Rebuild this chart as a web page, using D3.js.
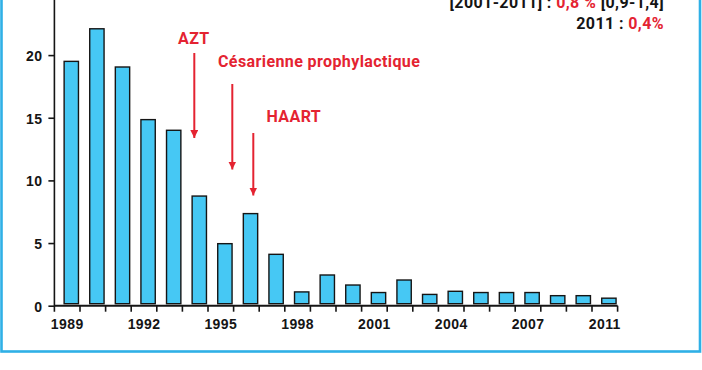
<!DOCTYPE html>
<html>
<head>
<meta charset="utf-8">
<script src="https://cdn.jsdelivr.net/npm/d3@7"></script>
<style>
  body { margin: 0; background: #fff; }
  svg { display: block; font-family: Roboto, "Liberation Sans", sans-serif; }
</style>
</head>
<body>
<div id="chart"></div>
<script>
// years shown as bars (source labels its last bar 2011)
var years = ["1989","1990","1991","1992","1993","1994","1995","1996","1997","1998","1999",
             "2000","2001","2002","2003","2004","2005","2006","2007","2008","2009","2011"];
var rates = [19.5, 22.1, 19.05, 14.85, 14.0, 8.75, 4.95, 7.35, 4.1, 1.1, 2.45,
             1.65, 1.05, 2.05, 0.9, 1.15, 1.05, 1.05, 1.05, 0.8, 0.8, 0.6];
var yearTicks = ["1989","1992","1995","1998","2001","2004","2007","2011"];
var rateTicks = [0, 5, 10, 15, 20];
var events = ["AZT", "Césarienne prophylactique", "HAART"];

var W = 702, H = 370;
var red = "#e42331", blue = "#46c8f4", frame = "#2fb0e6", ink = "#151515";

var svg = d3.select("#chart").append("svg")
  .attr("width", W)
  .attr("height", H);

// frame (top edge falls outside the picture)
svg.append("rect")
  .attr("x", 1.5).attr("y", -10)
  .attr("width", 698.5).attr("height", 361.5)
  .attr("fill", "#fff")
  .attr("stroke", frame)
  .attr("stroke-width", 2.6);

var x = d3.scaleBand().domain(years).range([54.4, 617.6]).padding(0);
var y = d3.scaleLinear().domain([0, 20]).range([305.7, 55.1]);
var step = x.step();

// bars
svg.selectAll("rect.bar")
  .data(rates)
  .enter()
  .append("rect")
  .attr("class", "bar")
  .attr("x", function(d, i) { return x(years[i]) + step * 0.38; })
  .attr("width", step * 0.56)
  .attr("y", function(d) { return y(d); })
  .attr("height", function(d) { return y(0) - 2 - y(d); })
  .attr("fill", blue)
  .attr("stroke", ink)
  .attr("stroke-width", 1.4);

// y axis
var yAxis = svg.append("g")
  .attr("transform", "translate(54.4,0)")
  .call(d3.axisLeft(y).tickValues(rateTicks).tickSize(6).tickPadding(6));
yAxis.select(".domain").remove();
yAxis.selectAll("line").attr("stroke", ink).attr("stroke-width", 1.6);
yAxis.selectAll("text")
  .attr("fill", ink)
  .attr("font-size", 14)
  .attr("font-weight", 700)
  .attr("letter-spacing", 0.4)
  .attr("dy", "0.38em");
svg.append("line")
  .attr("x1", 54.4).attr("x2", 54.4)
  .attr("y1", 0).attr("y2", y(0) + 6)
  .attr("stroke", ink).attr("stroke-width", 1.6);

// x axis: labels at band centres, ticks at band edges
var xAxis = svg.append("g")
  .attr("transform", "translate(0," + y(0) + ")")
  .call(d3.axisBottom(x).tickValues(yearTicks).tickSize(0).tickPadding(13));
xAxis.select(".domain").remove();
xAxis.selectAll("text")
  .attr("fill", ink)
  .attr("font-size", 14)
  .attr("font-weight", 700)
  .attr("letter-spacing", 0.4)
  .attr("dy", "0.71em");

svg.append("line")
  .attr("x1", x.range()[0]).attr("x2", x.range()[1])
  .attr("y1", y(0)).attr("y2", y(0))
  .attr("stroke", ink).attr("stroke-width", 2);
var edges = years.map(function(d) { return x(d) + step; });
svg.selectAll("line.xtick")
  .data(edges)
  .enter()
  .append("line")
  .attr("class", "xtick")
  .attr("x1", function(d) { return d; })
  .attr("x2", function(d) { return d; })
  .attr("y1", y(0))
  .attr("y2", y(0) + 6)
  .attr("stroke", ink)
  .attr("stroke-width", 1.6);

// annotations with arrows
var marker = svg.append("defs").append("marker")
  .attr("id", "head")
  .attr("viewBox", "0 0 10 10")
  .attr("refX", 10).attr("refY", 5)
  .attr("markerWidth", 4).attr("markerHeight", 4)
  .attr("markerUnits", "strokeWidth")
  .attr("orient", "auto");
marker.append("path").attr("d", "M0,0L10,5L0,10Z").attr("fill", red);

var evLayout = [
  { tx: 178, ty: 44, ax: 194.3, a1: 53, a2: 138 },
  { tx: 218, ty: 67, ax: 232.3, a1: 84, a2: 169.5 },
  { tx: 266.5, ty: 122.3, ax: 253.3, a1: 133, a2: 195.5 }
];
events.forEach(function(label, i) {
  var p = evLayout[i];
  svg.append("text")
    .attr("x", p.tx).attr("y", p.ty)
    .attr("fill", red)
    .attr("font-size", 16)
    .attr("font-weight", 700)
    .attr("letter-spacing", 0.4)
    .text(label);
  svg.append("line")
    .attr("x1", p.ax).attr("x2", p.ax)
    .attr("y1", p.a1).attr("y2", p.a2)
    .attr("stroke", red)
    .attr("stroke-width", 2)
    .attr("marker-end", "url(#head)");
});

// top-right summary
var t1 = svg.append("text")
  .attr("x", 664).attr("y", 8)
  .attr("text-anchor", "end")
  .attr("font-size", 16)
  .attr("font-weight", 700)
  .attr("letter-spacing", 0.4)
  .attr("fill", ink);
t1.append("tspan").text("[2001-2011] : ");
t1.append("tspan").attr("fill", red).text("0,8 %");
t1.append("tspan").text(" [0,9-1,4]");

var t2 = svg.append("text")
  .attr("x", 664).attr("y", 29.3)
  .attr("text-anchor", "end")
  .attr("font-size", 16)
  .attr("font-weight", 700)
  .attr("letter-spacing", 0.4)
  .attr("fill", ink);
t2.append("tspan").text("2011 : ");
t2.append("tspan").attr("fill", red).text("0,4%");
</script>
</body>
</html>
